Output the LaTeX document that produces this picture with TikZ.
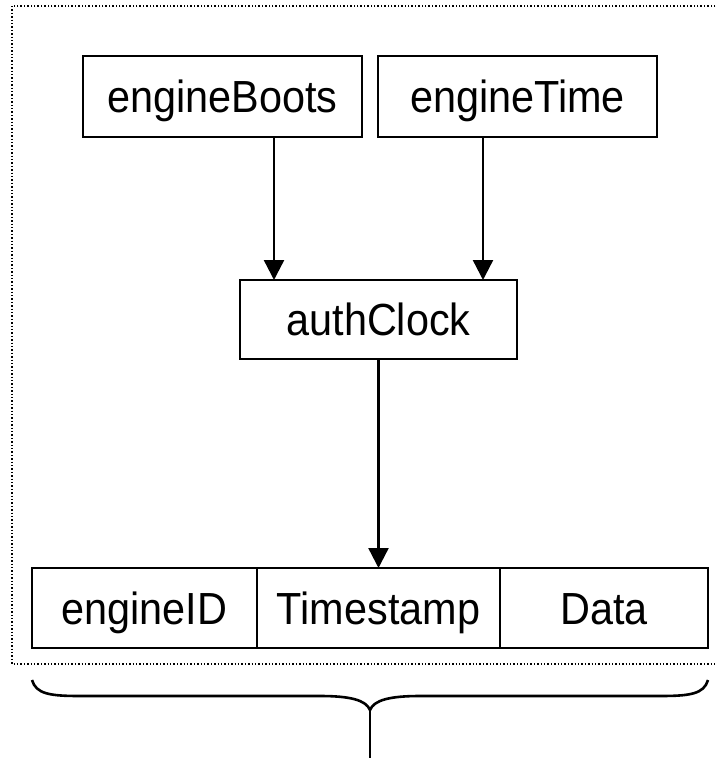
\documentclass[tikz,border=0pt]{standalone}
\usepackage{fontspec}
\setmainfont{Liberation Sans}[FakeStretch=0.92]
\usetikzlibrary{arrows.meta, positioning}

\begin{document}
\begin{tikzpicture}[x=1pt, y=-1pt,
        block/.style={rectangle, draw=black, line width=2.6pt, outer sep=0pt, inner sep=0pt, minimum width=279pt, minimum height=81pt, text height=32pt, text depth=0pt, font=\fontsize{45}{54}\selectfont},
        field/.style={block, minimum height=80pt},
        frame/.style={draw, line width=1.4pt, dash pattern=on 1.4pt off 2pt},
        line/.style={draw, line width=2.4pt, -{Triangle[length=20pt, width=20pt]}}
    ]
        \useasboundingbox (0,0) rectangle (717,758);
        \path [frame] (12,6) rectangle (724,664);

        \node [block] (boots) at (222.5,96.5) {engineBoots};
        \node [block] (time) at (517.5,96.5) {engineTime};
        \node [block, minimum width=277pt, minimum height=79pt] (clock) at (378.5,319.5) {authClock};
        \node [field, minimum width=225pt] (engineID) at (144.5,608) {engineID};
        \node [field, minimum width=243pt, right=0pt of engineID] (stamp) {Timestamp};
        \node [field, minimum width=208pt, right=0pt of stamp] (data) {Data};

        \path [line] ([xshift=51.5pt]boots.south) -- ([xshift=51.5pt]boots.south |- clock.north);
        \path [line] ([xshift=-34.5pt]time.south) -- ([xshift=-34.5pt]time.south |- clock.north);
        \path [line] (clock.south) -- (stamp.north);

        % brace under the message
        \coordinate (tip) at (370,710);
        \coordinate (foot) at (370,758);
        \draw [line width=2.6pt] (engineID.south west |- 0,680) .. controls (36,694) and (50,696) .. (80,696) -- (320,696) .. controls (350,696) and (366,700) .. (tip) .. controls (374,700) and (390,696) .. (420,696) -- (660,696) .. controls (690,696) and (704,694) .. (data.south east |- 0,680);
        \draw [line width=2.6pt] (tip) -- (foot);
    \end{tikzpicture}
\end{document}
